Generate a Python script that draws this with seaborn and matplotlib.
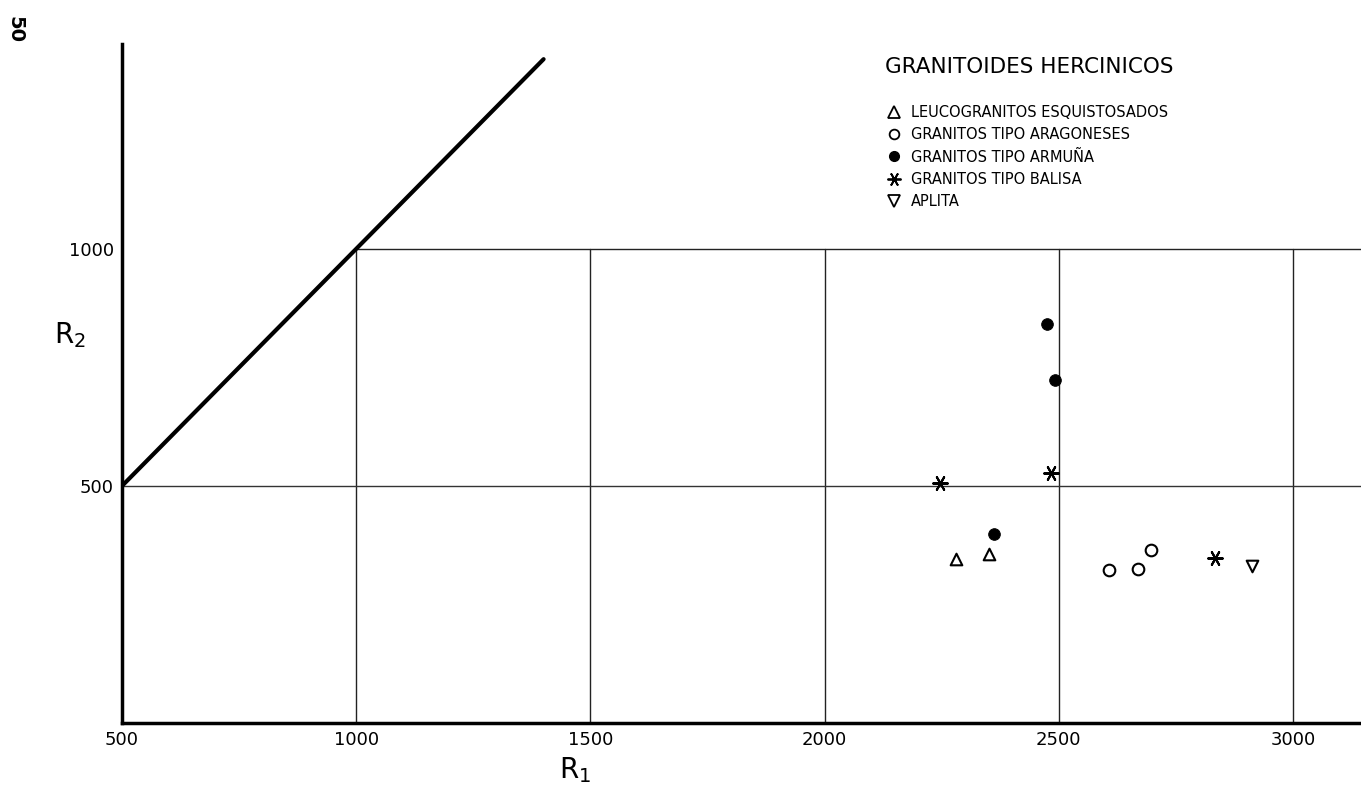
import matplotlib
matplotlib.use("Agg")
import matplotlib.pyplot as plt
from matplotlib.lines import Line2D
import seaborn as sns
import pandas as pd

sns.set_theme(style="white")
plt.rcParams['font.family'] = ['DejaVu Sans']
plt.rcParams['text.color'] = 'black'
plt.rcParams['axes.labelcolor'] = 'black'

# ---- data ----
leuco_r1 = [2281, 2351]
leuco_r2 = [346, 356]
arag_r1 = [2606, 2668, 2696]
arag_r2 = [323, 325, 365]
armuna_r1 = [2362, 2491, 2475]
armuna_r2 = [399, 723, 842]
balisa_r1 = [2247, 2483, 2834]
balisa_r2 = [506, 527, 348]
aplita_r1 = [2913]
aplita_r2 = [331]

boundary_r1 = [500, 1400]
boundary_r2 = [500, 1400]
vgrid_x = [1000, 1500, 2000, 2500, 3000]
hgrid_y = [500, 1000]
xticks = [500, 1000, 1500, 2000, 2500, 3000]
yticks = [500, 1000]

title = "GRANITOIDES HERCINICOS"
labels = ["LEUCOGRANITOS ESQUISTOSADOS", "GRANITOS TIPO ARAGONESES",
          "GRANITOS TIPO ARMUÑA", "GRANITOS TIPO BALISA", "APLITA"]

fig = plt.figure(figsize=(13.61, 7.87), dpi=100)
ax = fig.add_axes([122/1361, 1 - 723/787, 1 - 122/1361, (723 - 44)/787])
xmax = 3145
ymax = 1432
ax.set_xlim(500, xmax)
ax.set_ylim(0, ymax)

# frame lines
for xv in vgrid_x:
    ax.plot([xv, xv], [0, 1000], color="#222222", lw=1.0, zorder=1)
ax.plot([500, xmax], [hgrid_y[0], hgrid_y[0]], color="#333333", lw=1.0, zorder=1)
ax.plot([1000, xmax], [hgrid_y[1], hgrid_y[1]], color="#222222", lw=1.0, zorder=1)

# boundary line
sns.lineplot(x=boundary_r1, y=boundary_r2, color="black", lw=3, ax=ax, zorder=2)

ms = 70
sns.scatterplot(x=leuco_r1, y=leuco_r2, marker="^", s=ms, facecolor="white",
                edgecolor="black", linewidth=1.5, ax=ax, zorder=3)
sns.scatterplot(x=arag_r1, y=arag_r2, marker="o", s=ms, facecolor="white",
                edgecolor="black", linewidth=1.5, ax=ax, zorder=3)
sns.scatterplot(x=armuna_r1, y=armuna_r2, marker="o", s=ms, color="black",
                edgecolor="black", ax=ax, zorder=3)
sns.scatterplot(x=balisa_r1, y=balisa_r2, marker=(6, 2, 90), s=110, color="black",
                linewidth=1.5, ax=ax, zorder=3)
sns.scatterplot(x=aplita_r1, y=aplita_r2, marker="v", s=ms, facecolor="white",
                edgecolor="black", linewidth=1.5, ax=ax, zorder=3)

# spines
for side in ["top", "right"]:
    ax.spines[side].set_visible(False)
for side in ["left", "bottom"]:
    ax.spines[side].set_linewidth(2.5)
    ax.spines[side].set_color("black")

ax.set_xticks(xticks)
ax.set_yticks(yticks)
ax.tick_params(axis="both", length=0, labelsize=13, colors="black", pad=6)
ax.set_xlabel("R$_\\mathregular{1}$", fontsize=20, ha="center", va="center", color="black")
ax.set_ylabel("R$_\\mathregular{2}$", fontsize=20, rotation=0, ha="center", va="center",
              color="black")
ax.yaxis.set_label_coords(-0.042, 0.571)
ax.xaxis.set_label_coords(0.366, -0.069)

# legend
handles = [
    Line2D([], [], marker="^", ls="", mfc="white", mec="black", mew=1.3, ms=8),
    Line2D([], [], marker="o", ls="", mfc="white", mec="black", mew=1.3, ms=7),
    Line2D([], [], marker="o", ls="", mfc="black", mec="black", ms=7),
    Line2D([], [], marker=(6, 2, 90), ls="", color="black", mew=1.3, ms=10),
    Line2D([], [], marker="v", ls="", mfc="white", mec="black", mew=1.3, ms=8),
]
leg = ax.legend(handles, labels, title=title, loc="upper left",
                bbox_to_anchor=(872/1361, 1 - 44/787), bbox_transform=fig.transFigure,
                frameon=False, fontsize=10.5, title_fontsize=15.5, alignment="left",
                handletextpad=0.6, labelspacing=0.5, handlelength=1.2,
                labelcolor="black")
leg.get_title().set_color("black")
leg._legend_box.sep = 20

fig.text(15/1361, 1 - 30/787, "50", rotation=-90, fontsize=14, fontweight="bold",
         ha="center", va="center")

fig.savefig("out.png", dpi=100)
